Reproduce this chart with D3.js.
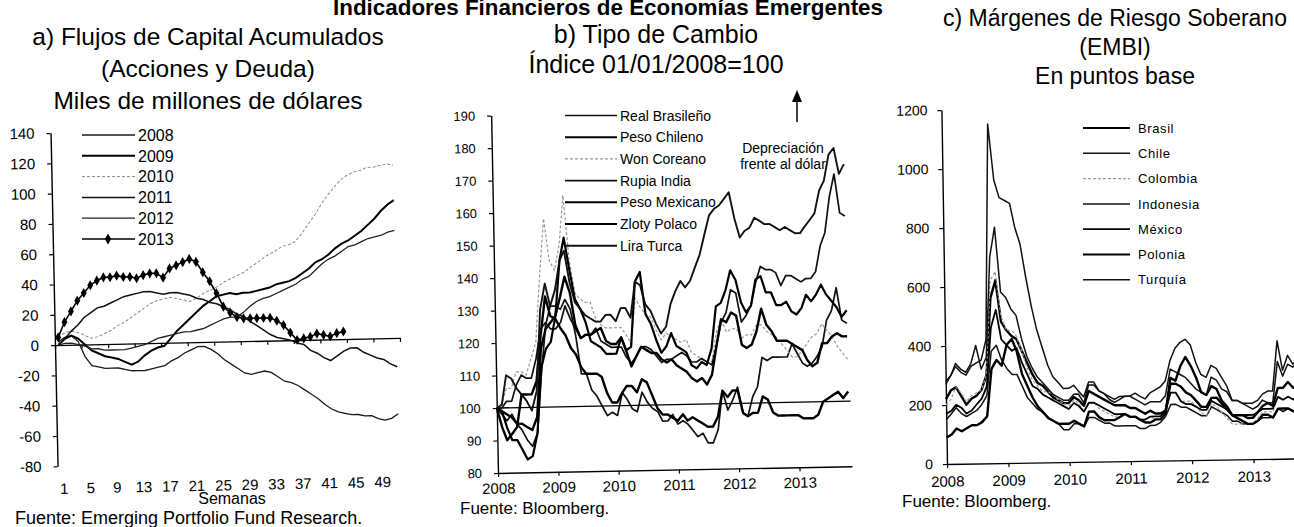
<!DOCTYPE html>
<html>
<head>
<meta charset="utf-8">
<script src="https://cdn.jsdelivr.net/npm/d3@7"></script>
<style>
  body { margin: 0; background: #fff; }
  text { font-family: "Liberation Sans", Arial, sans-serif; fill: #000; }
</style>
</head>
<body>
<svg id="chart" width="1294" height="527"></svg>
<script>
// ---------- a) Flujos de capital acumulados (semanas 1-52) ----------
var semanas = Array.from({ length: 52 }, (d, i) => i + 1);
var etiquetasSemanas = [1, 5, 9, 13, 17, 21, 25, 29, 33, 37, 41, 45, 49];
var ticksA = [-80, -60, -40, -20, 0, 20, 40, 60, 80, 100, 120, 140];

var flujos2008 = [2, 5, 6, 2, -8, -14, -15, -16, -16, -16, -17, -18, -18, -18, -17, -16,
  -15, -12, -10, -7, -5, -3, -3, -5, -8, -12, -15, -18, -21, -22, -21, -20, -21, -24, -27, -28, -30, -33,
  -36, -39, -43, -46, -48, -49, -50, -50, -51, -51, -53, -54, -53, -50];
var flujos2009 = [0, 4, 6, 4, 0, -4, -6, -8, -9, -10, -12, -14, -12, -8, -5, -3,
  -2, 3, 8, 12, 16, 20, 24, 27, 30, 31, 32, 31, 32, 32, 33, 34, 35, 37, 38, 39, 41, 44,
  47, 51, 53, 56, 60, 63, 65, 68, 71, 75, 79, 84, 88, 91];
var flujos2010 = [5, 8, 9, 8, 6, 4, 5, 7, 9, 12, 14, 17, 20, 23, 26, 28,
  29, 30, 29, 28, 27, 29, 32, 34, 36, 39, 41, 43, 45, 48, 51, 54, 57, 59, 62, 63, 65, 70,
  76, 82, 89, 95, 100, 105, 108, 110, 111, 113, 113, 114, 115, 114];
var flujos2011 = [0, 4, 9, 13, 18, 21, 24, 25, 27, 29, 31, 32, 33, 34, 34, 33,
  32, 33, 33, 32, 31, 29, 28, 26, 25, 23, 21, 18, 16, 13, 10, 7, 4, 2, 1, 0, -2, -3,
  -7, -9, -12, -14, -11, -8, -6, -6, -9, -11, -13, -14, -17, -19];
var flujos2012 = [0, 1, 1, 0, -1, -3, -3, -4, -4, -4, -4, -3, -2, -1, 1, 3,
  4, 5, 6, 7, 7, 8, 9, 11, 13, 15, 16, 16, 19, 23, 26, 28, 29, 31, 33, 35, 37, 40,
  42, 46, 50, 53, 55, 58, 61, 62, 64, 66, 67, 68, 70, 71];
var flujos2013 = [5, 15, 22, 29, 34, 39, 42, 44, 44, 45, 44, 44, 43, 45, 46, 46,
  43, 49, 51, 53, 55, 53, 46, 40, 32, 23, 19, 16, 15, 15, 15, 15, 15, 13, 10, 5, 0, 1,
  2, 4, 3, 2, 4, 5];

// ---------- b) Tipo de cambio, indice 01/01/2008=100 (mensual) ----------
var fechasB = d3.timeMonths(new Date(2008, 0, 1), new Date(2013, 10, 2));
var ticksB = [80, 90, 100, 110, 120, 130, 140, 150, 160, 170, 180, 190];
var aniosB = [2008, 2009, 2010, 2011, 2012, 2013];

var realBrasileno = [100, 98, 96, 98, 95, 93, 90, 88, 92, 110, 125, 131,
  131, 130, 133, 130, 122, 110, 110, 105, 103, 100, 97, 98,
  97, 104, 102, 99, 98, 104, 101, 99, 98, 95, 95, 97,
  94, 95, 94, 92, 90, 91, 88, 88, 92, 104, 98, 101,
  105, 97, 96, 102, 105, 114, 113, 114, 114, 114, 114, 118,
  115, 112, 111, 112, 114, 117, 125, 128, 135, 125, 124];
var pesoChileno = [100, 94, 90, 92, 94, 104, 104, 104, 108, 122, 134, 128,
  127, 124, 122, 118, 116, 112, 110, 110, 110, 109, 104, 101,
  101, 104, 106, 106, 104, 108, 107, 103, 99, 97, 97, 96,
  95, 97, 95, 96, 95, 94, 93, 93, 96, 104, 102, 104,
  104, 97, 96, 97, 97, 102, 101, 97, 96, 96, 96, 96,
  96, 95, 95, 95, 96, 100, 101, 102, 103, 101, 103];
var wonCoreano = [100, 101, 106, 106, 111, 111, 110, 115, 120, 140, 158, 145,
  142, 150, 165, 145, 135, 133, 132, 132, 127, 125, 124, 124,
  124, 124, 122, 119, 133, 130, 128, 127, 123, 120, 122, 121,
  120, 119, 120, 116, 115, 114, 113, 113, 122, 126, 122, 123,
  123, 120, 121, 121, 124, 124, 122, 121, 120, 118, 116, 114,
  114, 116, 118, 120, 121, 124, 122, 120, 117, 115, 113];
var rupiaIndia = [100, 100, 102, 102, 107, 110, 109, 109, 115, 124, 126, 124,
  124, 126, 131, 127, 124, 121, 122, 122, 124, 120, 119, 118,
  118, 118, 115, 113, 115, 118, 118, 117, 115, 113, 114, 114,
  115, 116, 115, 113, 113, 114, 113, 112, 118, 125, 128, 135,
  134, 125, 127, 130, 137, 142, 141, 141, 140, 136, 139, 139,
  138, 137, 138, 138, 140, 148, 152, 163, 170, 158, 157];
var pesoMexicano = [100, 99, 98, 97, 95, 95, 94, 93, 97, 118, 124, 126,
  128, 134, 140, 135, 125, 121, 122, 122, 123, 124, 120, 119,
  119, 121, 117, 112, 115, 118, 117, 116, 116, 114, 113, 114,
  112, 111, 110, 108, 107, 108, 106, 109, 118, 126, 125, 128,
  127, 118, 117, 118, 122, 129, 124, 122, 119, 119, 119, 118,
  117, 116, 113, 111, 112, 118, 118, 120, 121, 120, 120];
var zlotyPolaco = [100, 99, 94, 90, 90, 87, 84, 85, 92, 112, 118, 120,
  128, 145, 152, 142, 133, 130, 126, 120, 119, 118, 116, 116,
  116, 121, 117, 118, 138, 141, 128, 125, 120, 116, 118, 122,
  118, 117, 116, 112, 111, 113, 112, 117, 130, 131, 135, 141,
  138, 131, 128, 130, 138, 139, 134, 134, 130, 130, 131, 128,
  127, 129, 133, 131, 133, 136, 133, 131, 129, 126, 128];
var liraTurca = [100, 101, 110, 109, 106, 104, 102, 99, 105, 130, 138, 131,
  136, 145, 148, 138, 132, 130, 128, 127, 126, 126, 128, 128,
  126, 130, 130, 127, 138, 137, 131, 129, 125, 122, 124, 131,
  135, 138, 136, 138, 142, 146, 152, 158, 160, 161, 163, 165,
  157, 151, 153, 154, 157, 156, 155, 155, 154, 153, 154, 153,
  152, 152, 154, 156, 158, 165, 168, 176, 178, 170, 173];

// ---------- c) EMBI, puntos base (mensual) ----------
var fechasC = d3.timeMonths(new Date(2008, 0, 1), new Date(2013, 9, 2));
var ticksC = [0, 200, 400, 600, 800, 1000, 1200];
var aniosC = [2008, 2009, 2010, 2011, 2012, 2013];

var embiBrasil = [220, 250, 260, 230, 200, 220, 230, 250, 300, 560, 620, 480,
  450, 430, 420, 380, 340, 300, 270, 260, 240, 220, 210, 200,
  200, 220, 210, 190, 240, 230, 220, 210, 200, 190, 190, 190,
  180, 180, 170, 160, 170, 160, 160, 170, 260, 260, 250, 230,
  220, 200, 180, 180, 210, 210, 190, 170, 150, 150, 150, 140,
  140, 160, 180, 190, 180, 240, 240, 260, 240, 240];
var embiChile = [150, 170, 190, 170, 160, 170, 180, 200, 230, 380, 400, 350,
  320, 300, 300, 260, 220, 200, 180, 170, 150, 140, 130, 110,
  110, 130, 130, 120, 150, 150, 140, 130, 130, 120, 120, 120,
  120, 120, 110, 110, 120, 120, 130, 150, 190, 190, 180, 180,
  170, 160, 150, 150, 180, 170, 160, 150, 130, 130, 120, 120,
  120, 130, 140, 140, 140, 170, 160, 170, 160, 160];
var embiColombia = [200, 220, 260, 240, 210, 230, 240, 250, 300, 620, 650, 500,
  450, 450, 430, 380, 320, 280, 260, 240, 240, 230, 210, 200,
  190, 210, 200, 170, 200, 200, 180, 170, 160, 150, 160, 160,
  150, 150, 140, 140, 150, 140, 140, 160, 230, 230, 200, 200,
  200, 180, 160, 150, 190, 180, 160, 140, 120, 120, 120, 120,
  120, 140, 160, 160, 160, 210, 200, 210, 200, 200];
var embiIndonesia = [280, 300, 330, 310, 300, 330, 340, 350, 420, 1150, 960, 900,
  890, 880, 800, 740, 630, 530, 450, 390, 330, 290, 270, 250,
  250, 260, 240, 220, 270, 270, 240, 230, 220, 210, 220, 220,
  220, 210, 200, 190, 200, 200, 200, 220, 310, 300, 290, 280,
  260, 240, 230, 220, 280, 270, 240, 230, 200, 200, 190, 190,
  190, 200, 220, 230, 230, 400, 300, 350, 320, 340];
var embiMexico = [170, 180, 200, 190, 170, 180, 200, 220, 260, 460, 520, 420,
  400, 380, 390, 340, 300, 260, 250, 230, 220, 210, 200, 190,
  180, 200, 190, 170, 200, 200, 190, 180, 170, 160, 160, 160,
  150, 150, 140, 140, 150, 150, 150, 170, 230, 230, 200, 190,
  190, 180, 170, 170, 200, 190, 180, 170, 150, 150, 150, 150,
  150, 160, 170, 170, 170, 210, 200, 210, 200, 210];
var embiPolonia = [90, 100, 120, 110, 120, 130, 130, 140, 160, 320, 350, 330,
  400, 420, 380, 300, 260, 220, 190, 170, 150, 140, 130, 130,
  130, 140, 130, 120, 170, 170, 150, 140, 140, 140, 150, 160,
  150, 150, 140, 130, 130, 140, 140, 160, 280, 270, 320, 350,
  320, 280, 230, 220, 250, 240, 200, 180, 150, 140, 130, 120,
  120, 130, 150, 150, 140, 170, 170, 170, 160, 160];
var embiTurquia = [270, 300, 340, 320, 310, 340, 400, 320, 360, 700, 800, 580,
  560, 520, 500, 420, 360, 320, 290, 270, 250, 230, 220, 210,
  210, 230, 230, 200, 260, 260, 240, 230, 210, 200, 210, 220,
  220, 230, 220, 210, 230, 240, 250, 270, 340, 380, 400, 410,
  390, 330, 290, 280, 320, 310, 280, 250, 200, 200, 190, 180,
  170, 180, 200, 190, 190, 330, 280, 320, 310, 330];

var svg = d3.select("#chart");
svg.append("rect").attr("width", 1294).attr("height", 527).attr("fill", "#fff");

// Titles
svg.append("text").attr("x", 608).attr("y", 14.5).attr("text-anchor", "middle")
  .style("font-size", "22.4px").style("font-weight", "bold")
  .text("Indicadores Financieros de Economías Emergentes");

function titulo(x, lines, y0, step, fs) {
  lines.forEach(function (t, i) {
    svg.append("text").attr("x", x).attr("y", y0 + i * step).attr("text-anchor", "middle")
      .style("font-size", fs + "px").text(t);
  });
}
titulo(208, ["a) Flujos de Capital Acumulados", "(Acciones y Deuda)", "Miles de millones de dólares"], 45, 32, 24.5);
titulo(656, ["b) Tipo de Cambio", "Índice 01/01/2008=100"], 42.5, 30.5, 25);
titulo(1115, ["c) Márgenes de Riesgo Soberano", "(EMBI)", "En puntos base"], 26, 29, 23);

function estiloEje(g, fs) {
  g.select(".domain").attr("stroke", "#000").attr("stroke-width", 1.4);
  g.selectAll(".tick line").attr("stroke", "#000").attr("stroke-width", 1.2);
  g.selectAll(".tick text").style("font-size", fs + "px").attr("fill", "#000")
    .style("font-family", '"Liberation Sans", Arial, sans-serif');
}

// ================= Panel a =================
var xA = d3.scaleLinear().domain([0.5, 52.5]).range([55, 400]);
var yA = d3.scaleLinear().domain([-80, 140]).range([466.3, 133]);
var gA = svg.append("g").attr("transform", "rotate(-1.2,55,345)");

gA.append("g").attr("transform", "translate(55,0)")
  .call(d3.axisLeft(yA).tickValues(ticksA).tickSize(4).tickPadding(12).tickSizeOuter(0).tickFormat(d => String(d)))
  .call(g => estiloEje(g, 15));

var bordesA = d3.range(0, 14).map(k => 0.5 + 4 * k);
gA.append("g").attr("transform", "translate(0," + yA(0) + ")")
  .call(d3.axisBottom(xA).tickValues(bordesA).tickSize(4).tickSizeOuter(0).tickFormat(""))
  .call(g => estiloEje(g, 15));

gA.selectAll("text.semana").data(etiquetasSemanas).enter().append("text")
  .attr("class", "semana")
  .attr("x", d => xA(d) + 3).attr("y", 494).attr("text-anchor", "middle")
  .style("font-size", "15px").text(d => d);

var seriesA = [
  { nombre: "2008", valores: flujos2008, color: "#1a1a1a", ancho: 1.3, guion: null },
  { nombre: "2009", valores: flujos2009, color: "#000", ancho: 2, guion: null },
  { nombre: "2010", valores: flujos2010, color: "#8a8a8a", ancho: 1, guion: "3,2" },
  { nombre: "2011", valores: flujos2011, color: "#111", ancho: 1.5, guion: null },
  { nombre: "2012", valores: flujos2012, color: "#222", ancho: 1.3, guion: null },
  { nombre: "2013", valores: flujos2013, color: "#000", ancho: 1.6, guion: null }
];
var lineaA = d3.line().x((d, i) => xA(semanas[i])).y(d => yA(d));
seriesA.forEach(function (s) {
  gA.append("path").datum(s.valores).attr("d", lineaA).attr("fill", "none")
    .attr("stroke", s.color).attr("stroke-width", s.ancho)
    .attr("stroke-dasharray", s.guion);
});
gA.selectAll("path.marca").data(flujos2013).enter().append("path")
  .attr("class", "marca")
  .attr("transform", (d, i) => "translate(" + xA(semanas[i]) + "," + yA(d) + ")")
  .attr("d", d3.symbol().type(d3.symbolDiamond).size(30)).attr("fill", "#000");

svg.append("text").attr("x", 232).attr("y", 504).attr("text-anchor", "middle")
  .style("font-size", "16px").text("Semanas");

// legend a
seriesA.forEach(function (s, i) {
  var y = 135 + i * 20.8;
  svg.append("line").attr("x1", 82).attr("x2", 135).attr("y1", y).attr("y2", y)
    .attr("stroke", s.color).attr("stroke-width", s.ancho).attr("stroke-dasharray", s.guion);
  svg.append("text").attr("x", 138).attr("y", y).attr("dy", "0.36em")
    .style("font-size", "16px").text(s.nombre);
  if (s.nombre === "2013") {
    svg.append("path").attr("transform", "translate(108," + y + ")")
      .attr("d", d3.symbol().type(d3.symbolDiamond).size(34)).attr("fill", "#000");
  }
});

svg.append("text").attr("x", 15).attr("y", 524).style("font-size", "18px")
  .text("Fuente: Emerging Portfolio Fund Research.");

// ================= Panel b =================
var xB = d3.scaleTime().domain([new Date(2008, 0, 1), new Date(2013, 10, 15)]).range([498, 852]);
var yB = d3.scaleLinear().domain([80, 190]).range([473, 115.5]);
var gB = svg.append("g").attr("transform", "rotate(-1.1,498,473)");

gB.append("g").attr("transform", "translate(498,0)")
  .call(d3.axisLeft(yB).tickValues(ticksB).tickSize(4).tickPadding(12).tickSizeOuter(0).tickFormat(d => String(d)))
  .call(g => estiloEje(g, 13));
gB.append("g").attr("transform", "translate(0,473)")
  .call(d3.axisBottom(xB).tickValues(aniosB.map(a => new Date(a, 0, 1))).tickSize(4).tickPadding(6)
    .tickSizeOuter(0).tickFormat(d3.timeFormat("%Y")))
  .call(g => estiloEje(g, 15));

gB.append("line").attr("x1", 498).attr("x2", 852).attr("y1", yB(100)).attr("y2", yB(100))
  .attr("stroke", "#000").attr("stroke-width", 1.3);

var seriesB = [
  { nombre: "Real Brasileño", valores: realBrasileno, color: "#111", ancho: 1.7, guion: null },
  { nombre: "Peso Chileno", valores: pesoChileno, color: "#000", ancho: 2.4, guion: null },
  { nombre: "Won Coreano", valores: wonCoreano, color: "#999", ancho: 1.2, guion: "3,2" },
  { nombre: "Rupia India", valores: rupiaIndia, color: "#111", ancho: 1.7, guion: null },
  { nombre: "Peso Mexicano", valores: pesoMexicano, color: "#000", ancho: 2.4, guion: null },
  { nombre: "Zloty Polaco", valores: zlotyPolaco, color: "#000", ancho: 2.2, guion: null },
  { nombre: "Lira Turca", valores: liraTurca, color: "#111", ancho: 1.9, guion: null }
];
var lineaB = d3.line().x((d, i) => xB(fechasB[i])).y(d => yB(d));
seriesB.forEach(function (s) {
  gB.append("path").datum(s.valores).attr("d", lineaB).attr("fill", "none")
    .attr("stroke", s.color).attr("stroke-width", s.ancho).attr("stroke-dasharray", s.guion)
    .attr("stroke-linejoin", "round");
});

seriesB.forEach(function (s, i) {
  var y = 115.5 + i * 21.7;
  svg.append("line").attr("x1", 565).attr("x2", 617).attr("y1", y).attr("y2", y)
    .attr("stroke", s.color).attr("stroke-width", Math.min(s.ancho, 2)).attr("stroke-dasharray", s.guion);
  svg.append("text").attr("x", 620).attr("y", y).attr("dy", "0.36em")
    .style("font-size", "14px").text(s.nombre);
});

// arrow and note
svg.append("line").attr("x1", 797).attr("x2", 797).attr("y1", 100).attr("y2", 122)
  .attr("stroke", "#000").attr("stroke-width", 1.5);
svg.append("path").attr("d", "M797,90 L792,102 L802,102 Z").attr("fill", "#000");
svg.append("text").attr("x", 783).attr("y", 153).attr("text-anchor", "middle")
  .style("font-size", "14px").text("Depreciación");
svg.append("text").attr("x", 783).attr("y", 169).attr("text-anchor", "middle")
  .style("font-size", "14px").text("frente  al dólar");

svg.append("text").attr("x", 460).attr("y", 514).style("font-size", "17px").text("Fuente: Bloomberg.");

// ================= Panel c =================
var xC = d3.scaleTime().domain([new Date(2008, 0, 1), new Date(2014, 0, 1)]).range([947, 947 + 367.8]);
var yC = d3.scaleLinear().domain([0, 1200]).range([464, 110]);
var gC = svg.append("g").attr("transform", "rotate(-0.9,947,464)");

gC.append("g").attr("transform", "translate(947,0)")
  .call(d3.axisLeft(yC).tickValues(ticksC).tickSize(4).tickPadding(10).tickSizeOuter(0).tickFormat(d => String(d)))
  .call(g => estiloEje(g, 14));
gC.append("g").attr("transform", "translate(0,464)")
  .call(d3.axisBottom(xC).tickValues(aniosC.map(a => new Date(a, 0, 1))).tickSize(4).tickPadding(8)
    .tickSizeOuter(0).tickFormat(d3.timeFormat("%Y")))
  .call(g => estiloEje(g, 15));

var seriesC = [
  { nombre: "Brasil", valores: embiBrasil, color: "#000", ancho: 2.4, guion: null },
  { nombre: "Chile", valores: embiChile, color: "#111", ancho: 1.5, guion: null },
  { nombre: "Colombia", valores: embiColombia, color: "#999", ancho: 1.2, guion: "3,2" },
  { nombre: "Indonesia", valores: embiIndonesia, color: "#111", ancho: 1.5, guion: null },
  { nombre: "México", valores: embiMexico, color: "#000", ancho: 1.8, guion: null },
  { nombre: "Polonia", valores: embiPolonia, color: "#000", ancho: 2.4, guion: null },
  { nombre: "Turquía", valores: embiTurquia, color: "#111", ancho: 1.5, guion: null }
];
var lineaC = d3.line().x((d, i) => xC(fechasC[i])).y(d => yC(d));
seriesC.forEach(function (s) {
  gC.append("path").datum(s.valores).attr("d", lineaC).attr("fill", "none")
    .attr("stroke", s.color).attr("stroke-width", s.ancho).attr("stroke-dasharray", s.guion)
    .attr("stroke-linejoin", "round");
});

seriesC.forEach(function (s, i) {
  var y = 128 + i * 25.3;
  svg.append("line").attr("x1", 1083).attr("x2", 1130).attr("y1", y).attr("y2", y)
    .attr("stroke", s.color).attr("stroke-width", Math.min(s.ancho, 2.2)).attr("stroke-dasharray", s.guion);
  svg.append("text").attr("x", 1138).attr("y", y).attr("dy", "0.36em")
    .style("font-size", "13px").style("letter-spacing", "0.6px").text(s.nombre);
});

svg.append("text").attr("x", 902).attr("y", 507).style("font-size", "17px").text("Fuente: Bloomberg.");
</script>
</body>
</html>
